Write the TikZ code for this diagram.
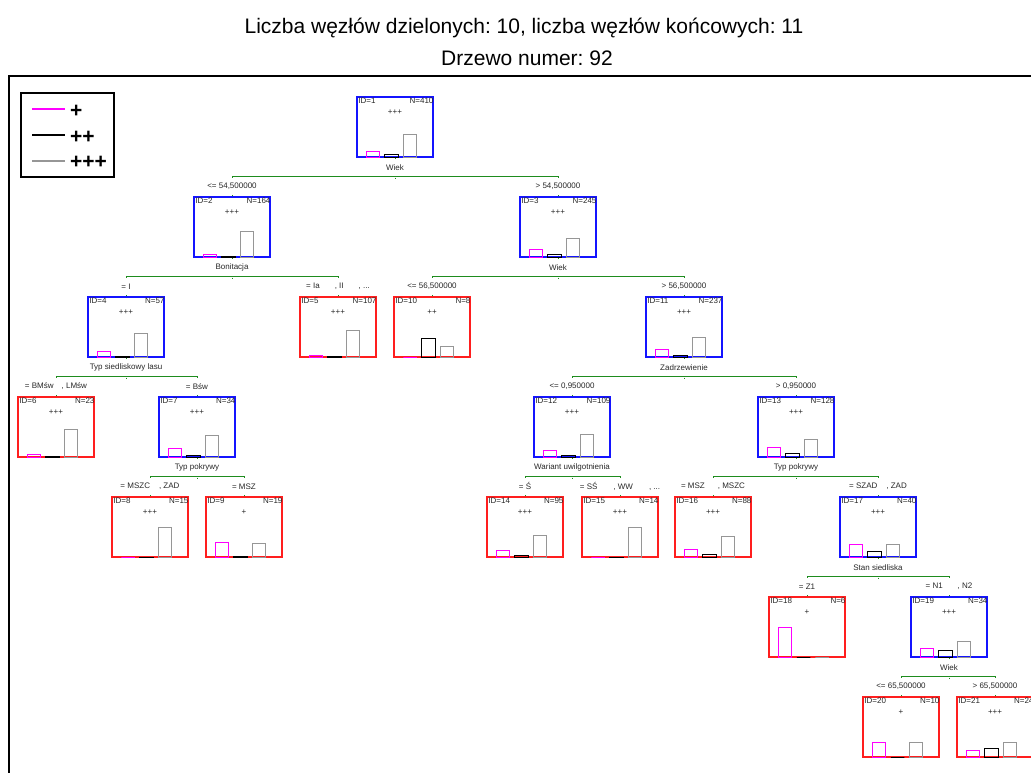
\documentclass[tikz,border=0pt]{standalone}
\usepackage{fontspec}
\setmainfont{Liberation Sans}
\usetikzlibrary{calc}
\frenchspacing
\definecolor{tgreen}{RGB}{30,140,30}
\definecolor{tred}{RGB}{255,30,30}
\definecolor{tblue}{RGB}{20,20,255}
\definecolor{tmag}{RGB}{255,0,255}
\definecolor{tgray}{RGB}{150,150,150}
\definecolor{ttext}{RGB}{40,40,40}
\tikzset{
  treebox/.style={rectangle, minimum width=76pt, minimum height=60pt, inner sep=0pt, line width=1.2pt},
  small/.style={font=\fontsize{8}{9}\selectfont, text=ttext, inner sep=0pt},
  mbar/.style={draw=tmag, line width=0.9pt},
  bbar/.style={draw=black, line width=0.9pt},
  gbar/.style={draw=tgray, line width=0.9pt},
  gline/.style={draw=tgreen, line width=1pt},
  legline/.style={line width=1.1pt},
  legtext/.style={font=\fontsize{21}{24}\selectfont\bfseries, inner sep=0pt, anchor=west}
}
% \tnode{name}{cx}{ytop}{colour}{id}{N}{class}{{hm}{hb}{hg}}
\newcommand{\tnode}[8]{%
  \node[treebox, draw=#4] (#1) at (#2,#3+30) {};
  \node[small, anchor=north west] (#1id) at ($(#1.north west)+(1.8,1.5)$) {ID=#5};
  \node[small, anchor=north east] (#1n) at ($(#1.north east)+(0,1.5)$) {N=#6};
  \node[small] (#1cl) at ($(#1.north)+(0,16)$) {#7};
  \tbars{#1}#8%
}
\newcommand{\tbars}[4]{%
  \draw[mbar] ($(#1.south west)+(10,0)$) rectangle +(13.5,-#2);
  \draw[bbar] ($(#1.south west)+(28.5,0)$) rectangle +(13.5,-#3);
  \draw[gbar] ($(#1.south west)+(47,0)$) rectangle +(13.5,-#4);
}
% \tsplit{parent}{child1}{child2}{variable}{label1}{label2}
\newcommand{\tsplit}[6]{%
  \node[small] (#1var) at ($(#1.south)+(0,10)$) {#4};
  \draw[gline] ($(#2.north)+(0,-18.5)$) -- ($(#2.north)+(0,-20)$) -- ($(#3.north)+(0,-20)$) -- ($(#3.north)+(0,-18.5)$);
  \draw[gline] ($(#1.south)+(0,20)$) -- +(0,1.5);
  \draw[gline] (#1.south) -- +(0,1.5);
  \draw[gline] (#2.north) -- +(0,-1.5);
  \draw[gline] (#3.north) -- +(0,-1.5);
  \node[small] (#2lab) at ($(#2.north)+(0,-10)$) {#5};
  \node[small] (#3lab) at ($(#3.north)+(0,-10)$) {#6};
}
\begin{document}
\begin{tikzpicture}[x=1pt,y=-1pt]
\useasboundingbox (0,0) rectangle (1031,773);
\clip (0,0) rectangle (1031,773);
\fill[white] (0,0) rectangle (1031,773);
% title
\node[font=\fontsize{21}{24}\selectfont, anchor=base, inner sep=0pt] (title1) at (524,34) {Liczba węzłów dzielonych: 10, liczba węzłów końcowych: 11};
\node[font=\fontsize{21}{24}\selectfont, anchor=base, inner sep=0pt] (title2) at (527,66) {Drzewo numer: 92};
% frame
\draw[line width=1.5pt] (9,780) -- (9,76) -- (1040,76);
% legend
\draw[line width=2pt] (21,93) rectangle (114,177);
\coordinate (lm1) at (32,109); \coordinate (lm2) at (65,109);
\coordinate (lb1) at (32,135); \coordinate (lb2) at (65,135);
\coordinate (lg1) at (32,161); \coordinate (lg2) at (65,161);
\draw[legline, draw=tmag] (lm1) -- (lm2);
\draw[legline, draw=black] (lb1) -- (lb2);
\draw[legline, draw=tgray] (lg1) -- (lg2);
\node[legtext] (leg1) at (70,111) {+};
\node[legtext] (leg2) at (70,137) {++};
\node[legtext] (leg3) at (70,162.5) {+++};
% nodes
\tnode{n1}{395}{97}{tblue}{1}{410}{+++}{{6}{3}{23}}
\tnode{n2}{232}{197}{tblue}{2}{164}{+++}{{3.3}{1}{26}}
\tnode{n3}{558}{197}{tblue}{3}{245}{+++}{{8}{3.3}{19.3}}
\tnode{n4}{126}{297}{tblue}{4}{57}{+++}{{6}{0.8}{24}}
\tnode{n5}{338}{297}{tred}{5}{107}{+++}{{2.3}{0.8}{27}}
\tnode{n10}{432}{297}{tred}{10}{8}{++}{{0}{19}{11}}
\tnode{n11}{684}{297}{tblue}{11}{237}{+++}{{7.7}{2.3}{20}}
\tnode{n6}{56}{397}{tred}{6}{23}{+++}{{3}{0.8}{28}}
\tnode{n7}{197}{397}{tblue}{7}{34}{+++}{{8.7}{2}{21.7}}
\tnode{n12}{572}{397}{tblue}{12}{109}{+++}{{6.7}{2}{23}}
\tnode{n13}{796}{397}{tblue}{13}{128}{+++}{{10}{3.7}{18.3}}
\tnode{n8}{150}{497}{tred}{8}{15}{+++}{{0}{0.5}{30}}
\tnode{n9}{244}{497}{tred}{9}{19}{+}{{15}{1.5}{14.5}}
\tnode{n14}{525}{497}{tred}{14}{95}{+++}{{7.3}{2.3}{22}}
\tnode{n15}{620}{497}{tred}{15}{14}{+++}{{0}{0.5}{30}}
\tnode{n16}{713}{497}{tred}{16}{88}{+++}{{8.3}{3}{20.7}}
\tnode{n17}{878}{497}{tblue}{17}{40}{+++}{{12.7}{5.7}{13.3}}
\tnode{n18}{807}{597}{tred}{18}{6}{+}{{30}{0}{0}}
\tnode{n19}{949}{597}{tblue}{19}{34}{+++}{{9.3}{6.7}{15.7}}
\tnode{n20}{901}{697}{tred}{20}{10}{+}{{15.3}{0}{15.3}}
\tnode{n21}{995}{697}{tred}{21}{24}{+++}{{6.7}{8.7}{15.3}}
% splits
\tsplit{n1}{n2}{n3}{Wiek}{<= 54,500000}{> 54,500000}
\tsplit{n2}{n4}{n5}{Bonitacja}{= I}{= Ia\hspace{15pt}, II\hspace{15pt}, ...}
\tsplit{n3}{n10}{n11}{Wiek}{<= 56,500000}{> 56,500000}
\tsplit{n4}{n6}{n7}{Typ siedliskowy lasu}{= BMśw\hspace{8pt}, LMśw}{= Bśw}
\tsplit{n11}{n12}{n13}{Zadrzewienie}{<= 0,950000}{> 0,950000}
\tsplit{n7}{n8}{n9}{Typ pokrywy}{= MSZC\hspace{9pt}, ZAD}{= MSZ}
\tsplit{n12}{n14}{n15}{Wariant uwilgotnienia}{= Ś}{= SŚ\hspace{16pt}, WW\hspace{16pt}, ...}
\tsplit{n13}{n16}{n17}{Typ pokrywy}{= MSZ\hspace{13pt}, MSZC}{= SZAD\hspace{9pt}, ZAD}
\tsplit{n17}{n18}{n19}{Stan siedliska}{= Z1}{= N1\hspace{15pt}, N2}
\tsplit{n19}{n20}{n21}{Wiek}{<= 65,500000}{> 65,500000}
\end{tikzpicture}
\end{document}
